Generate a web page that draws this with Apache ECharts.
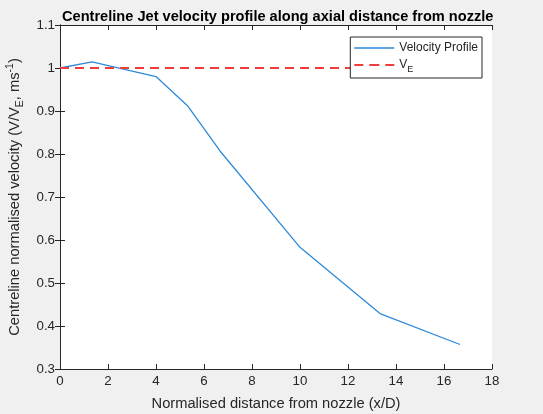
<!DOCTYPE html>
<html>
<head>
<meta charset="utf-8">
<script src="https://cdn.jsdelivr.net/npm/echarts@6/dist/echarts.min.js"></script>
<style>
html,body{margin:0;padding:0;background:#f0f0f0;}
#c{width:543px;height:414px;}
</style>
</head>
<body>
<div id="c"></div>
<script>
var xValues = [0, 1.333, 4, 5.333, 6.667, 10, 13.333, 16.667];
var velocity = [1.0, 1.014, 0.980, 0.911, 0.807, 0.583, 0.429, 0.357];
var veX = [0, 16.667];
var veY = [1.0, 1.0];
var xTicks = {min: 0, max: 18, interval: 2};
var yTicks = {min: 0.3, max: 1.1, interval: 0.1};

var font = 'Liberation Sans, Arial, Helvetica, sans-serif';
var axisCol = '#262626';

function pairs(xs, ys) { return xs.map(function (x, i) { return [x, ys[i]]; }); }

var chart = echarts.init(document.getElementById('c'));
var baseAxisLine = {show: true, lineStyle: {color: axisCol, width: 1}};
var tickInside = {show: true, inside: true, length: 5, lineStyle: {color: axisCol, width: 1}};
chart.setOption({
  backgroundColor: '#f0f0f0',
  animation: false,
  title: {
    text: 'Centreline Jet velocity profile along axial distance from nozzle',
    left: 57, top: 4,
    textStyle: {fontFamily: font, fontSize: 14.6, fontWeight: 'bold', color: '#000'}
  },
  grid: {left: 60, right: 51, top: 25, bottom: 45, show: true, backgroundColor: '#fff', borderWidth: 0, outerBoundsMode: 'none', containLabel: false},
  legend: {
    right: 61, top: 37,
    orient: 'vertical',
    backgroundColor: '#fff',
    borderColor: '#262626', borderWidth: 1, borderRadius: 0,
    padding: [5, 4, 4, 4],
    itemGap: 5,
    itemWidth: 40, itemHeight: 14,
    textStyle: {
      fontFamily: font, fontSize: 12, color: '#262626',
      rich: {
        n: {fontFamily: font, fontSize: 12, color: '#262626'},
        sub: {fontFamily: font, fontSize: 9, color: '#262626', padding: [9, 0, 0, 0]}
      }
    },
    formatter: function (name) {
      if (name === 'VE') return '{n|V}{sub|E}';
      return name;
    },
    data: [
      {name: 'Velocity Profile', icon: 'path://M0,0L40,0L40,1.4L0,1.4Z'},
      {name: 'VE', icon: 'path://M0,0L9,0L9,1.8L0,1.8ZM15,0L25,0L25,1.8L15,1.8ZM31,0L40,0L40,1.8L31,1.8Z'}
    ]
  },
  xAxis: [{
    type: 'value', min: xTicks.min, max: xTicks.max, interval: xTicks.interval,
    name: 'Normalised distance from nozzle (x/D)', nameLocation: 'middle', nameGap: 27,
    nameTextStyle: {fontFamily: font, fontSize: 14.7, color: '#262626'},
    axisLine: baseAxisLine, axisTick: tickInside,
    axisLabel: {fontFamily: font, fontSize: 13.3, color: '#262626', margin: 6},
    splitLine: {show: false}
  }, {
    type: 'value', position: 'top', min: xTicks.min, max: xTicks.max, interval: xTicks.interval,
    axisLine: baseAxisLine, axisTick: tickInside, axisLabel: {show: false}, splitLine: {show: false}
  }],
  yAxis: [{
    type: 'value', min: yTicks.min, max: yTicks.max, interval: yTicks.interval,
    name: '{n|Centreline normalised velocity (V/V}{sub|E}{n|, ms}{sup|-1}{n|)}',
    nameLocation: 'middle', nameGap: 29,
    nameTextStyle: {
      fontFamily: font, fontSize: 14.7, color: '#262626',
      rich: {
        n: {fontFamily: font, fontSize: 14.7, color: '#262626'},
        sub: {fontFamily: font, fontSize: 10.5, color: '#262626', padding: [11, 0, 0, 0]},
        sup: {fontFamily: font, fontSize: 10.5, color: '#262626', padding: [0, 0, 9, 0]}
      }
    },
    axisLine: baseAxisLine, axisTick: tickInside,
    axisLabel: {fontFamily: font, fontSize: 13.3, color: '#262626', margin: 5},
    splitLine: {show: false}
  }, {
    type: 'value', position: 'right', min: yTicks.min, max: yTicks.max, interval: yTicks.interval,
    axisLine: baseAxisLine, axisTick: tickInside, axisLabel: {show: false}, splitLine: {show: false}
  }],
  series: [{
    name: 'Velocity Profile', type: 'line', data: pairs(xValues, velocity),
    showSymbol: false, symbol: 'none',
    itemStyle: {color: '#2f8ad8'},
    lineStyle: {color: '#2f8ad8', width: 1.3}
  }, {
    name: 'VE', type: 'line', data: pairs(veX, veY),
    showSymbol: false, symbol: 'none',
    itemStyle: {color: '#f23c3c'},
    lineStyle: {color: '#f23c3c', width: 1.8, type: [9, 6]}
  }]
});
</script>
</body>
</html>
